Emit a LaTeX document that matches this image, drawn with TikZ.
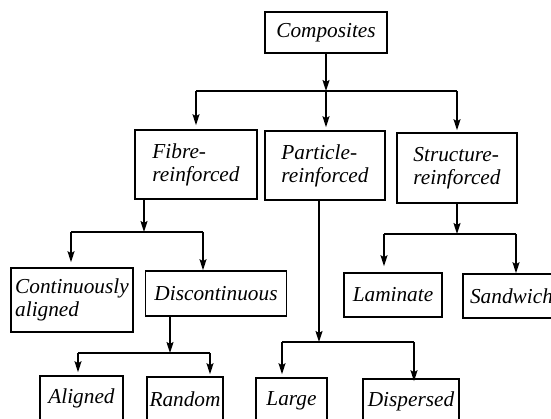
\documentclass[tikz,border=0pt]{standalone}
\usepackage{fontspec}
\setmainfont{Liberation Serif}
\usetikzlibrary{arrows.meta}
\tikzset{
  box/.style={draw, line width=1.6pt, inner sep=0pt, align=left,
    font=\itshape\fontsize{21.3}{23}\selectfont},
  link/.style={line width=1.6pt, -{Stealth[length=11pt,width=7pt,inset=2pt]}},
  bar/.style={line width=1.6pt}
}
\begin{document}
\begin{tikzpicture}[x=1pt, y=-1pt]
        \useasboundingbox (0,0) rectangle (551,419);
        \clip (0,0) rectangle (551,419);
        % boxes
        \node[box, minimum width=122pt, minimum height=41pt] (comp) at (326,32.5) {Composites};
        \node[box, minimum width=122pt, minimum height=69pt] (fibre) at (196,164.5) {Fibre-\\reinforced};
        \node[box, minimum width=120pt, minimum height=69pt] (part) at (325,165.5) {Particle-\\reinforced};
        \node[box, minimum width=120pt, minimum height=70pt] (struct) at (457,168) {Structure-\\reinforced};
        \node[box, minimum width=122pt, minimum height=64pt] (cont) at (72,300) {Continuously\\aligned};
        \node[box, minimum width=141pt, minimum height=45pt] (disc) at (216,293.5) {Discontinuous};
        \node[box, minimum width=98pt, minimum height=44pt] (lam) at (393,295) {Laminate};
        \node[box, minimum width=97pt, minimum height=44pt] (sand) at (511.5,296) {Sandwich};
        \node[box, minimum width=83pt, minimum height=45pt] (alig) at (81.5,398.5) {Aligned};
        \node[box, minimum width=76pt, minimum height=45pt] (rand) at (185,399.5) {Random};
        \node[box, minimum width=71pt, minimum height=45pt] (large) at (291.5,400.5) {Large};
        \node[box, minimum width=96pt, minimum height=45pt] (disp) at (411,401.5) {Dispersed};
        % branch points
        \coordinate (jc) at (326,91);
        \coordinate (jf) at (144,232);
        \coordinate (fl) at (71,232);
        \coordinate (fr) at (203,232);
        \coordinate (jd) at (170,353);
        \coordinate (dl) at (78,353);
        \coordinate (dr) at (210,353);
        \coordinate (jp) at (319,342);
        \coordinate (pl) at (282,342);
        \coordinate (pr) at (414,342);
        \coordinate (js) at (457,234);
        \coordinate (sl) at (384,234);
        \coordinate (sr) at (516,234);
        % composites
        \draw[link] (comp) -- (jc);
        \draw[bar] (jc -| fibre) -- (jc -| struct);
        \draw[link, shorten >=4pt] (jc -| fibre) -- (fibre);
        \draw[link, shorten >=3pt] (jc) -- (jc |- part.north);
        \draw[link, shorten >=2pt] (jc -| struct) -- (struct);
        % fibre-reinforced
        \draw[link] (fibre.south -| jf) -- (jf);
        \draw[bar] (fl) -- (fr);
        \draw[link, shorten >=5pt] (fl) -- (fl |- cont.north);
        \draw[link] (fr) -- (fr |- disc.north);
        % discontinuous
        \draw[link] (disc.south -| jd) -- (jd);
        \draw[bar] (dl) -- (dr);
        \draw[link, shorten >=3pt] (dl) -- (dl |- alig.north);
        \draw[link, shorten >=2pt] (dr) -- (dr |- rand.north);
        % particle-reinforced
        \draw[link] (part.south -| jp) -- (jp);
        \draw[bar] (pl) -- (pr);
        \draw[link, shorten >=3pt] (pl) -- (pl |- large.north);
        \draw[link, shorten >=-3pt] (pr) -- (pr |- disp.north);
        % structure-reinforced
        \draw[link] (struct.south -| js) -- (js);
        \draw[bar] (sl) -- (sr);
        \draw[link, shorten >=6pt] (sl) -- (sl |- lam.north);
        \draw[link] (sr) -- (sr |- sand.north);
      \end{tikzpicture}
\end{document}
